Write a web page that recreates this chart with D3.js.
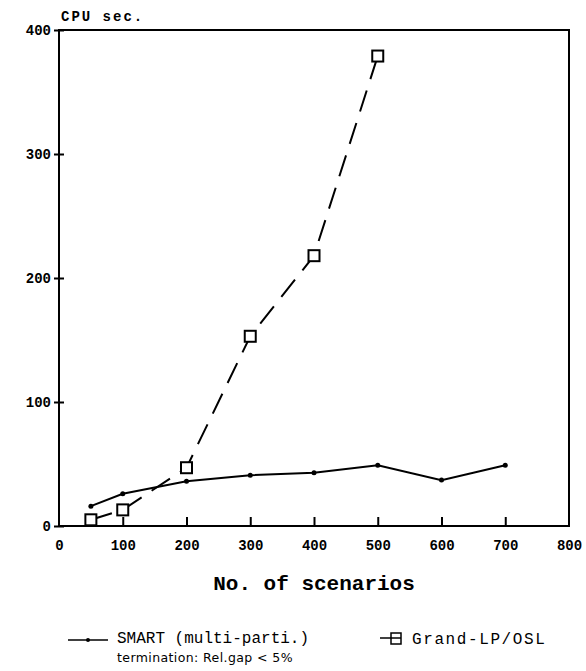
<!DOCTYPE html>
<html>
<head>
<meta charset="utf-8">
<script src="https://cdn.jsdelivr.net/npm/d3@7"></script>
<style>
  body { margin: 0; background: #fff; }
  svg { display: block; }
</style>
</head>
<body>
<div class="chart"></div>
<script>
var width = 586;
var height = 671;
var margin = { top: 30, left: 59, right: 17, bottom: 145 };

// data
var smartScenarios = [50, 100, 200, 300, 400, 500, 600, 700];
var smartCpu = [16, 26, 36, 41, 43, 49, 37, 49];
var grandScenarios = [50, 100, 200, 300, 400, 500];
var grandCpu = [5, 13, 47, 153, 218, 379];
var xTicks = [0, 100, 200, 300, 400, 500, 600, 700, 800];
var yTicks = [0, 100, 200, 300, 400];

var svg = d3.select(".chart")
    .append("svg")
    .attr("width", width)
    .attr("height", height);

var x = d3.scaleLinear()
    .domain([0, 800])
    .range([margin.left, width - margin.right]);

var y = d3.scaleLinear()
    .domain([0, 400])
    .range([height - margin.bottom, margin.top]);

var labelFont = "'Liberation Mono', 'DejaVu Sans Mono', monospace";

// frame
svg.append("rect")
    .attr("x", x(0))
    .attr("y", y(400))
    .attr("width", x(800) - x(0))
    .attr("height", y(0) - y(400))
    .attr("fill", "none")
    .attr("stroke", "#000")
    .attr("stroke-width", 2);

// x axis: ticks pointing up into the plot
var xAxis = svg.append("g")
    .attr("transform", `translate(0,${y(0)})`)
    .call(d3.axisBottom(x).tickValues(xTicks).tickSize(-9).tickPadding(14));
xAxis.select(".domain").remove();
xAxis.selectAll(".tick line")
    .attr("stroke-width", 2)
    .filter(function(d){ return d === 0 || d === 800; }).remove();
xAxis.selectAll("text")
    .attr("font-family", labelFont)
    .attr("font-weight", "bold")
    .attr("font-size", 14)
    .attr("fill", "#000");

// y axis: ticks crossing the axis line
var yAxis = svg.append("g")
    .attr("transform", `translate(${x(0)},0)`)
    .call(d3.axisLeft(y).tickValues(yTicks).tickSize(5).tickPadding(3));
yAxis.select(".domain").remove();
yAxis.selectAll(".tick line")
    .attr("x1", 5)
    .attr("stroke-width", 2);
yAxis.selectAll("text")
    .attr("font-family", labelFont)
    .attr("font-weight", "bold")
    .attr("font-size", 14)
    .attr("fill", "#000");

svg.append("text")
    .attr("x", x(0) + 2)
    .attr("y", y(400) - 9)
    .attr("font-family", labelFont)
    .attr("font-weight", "bold")
    .attr("font-size", 14)
    .attr("letter-spacing", 2)
    .text("CPU sec.");

svg.append("text")
    .attr("x", (x(0) + x(800)) / 2)
    .attr("y", 590)
    .attr("text-anchor", "middle")
    .attr("font-family", labelFont)
    .attr("font-weight", "bold")
    .attr("font-size", 21)
    .text("No. of scenarios");

var line = d3.line()
    .x(function(d){ return x(d[0]); })
    .y(function(d){ return y(d[1]); });

var smartData = d3.zip(smartScenarios, smartCpu);
var grandData = d3.zip(grandScenarios, grandCpu);

svg.append("path")
    .datum(grandData)
    .attr("d", line)
    .attr("fill", "none")
    .attr("stroke", "#000")
    .attr("stroke-width", 2)
    .attr("stroke-dasharray", "22,12");

svg.selectAll(".grand")
    .data(grandData)
    .enter()
    .append("rect")
    .attr("class", "grand")
    .attr("x", function(d){ return x(d[0]) - 5.5; })
    .attr("y", function(d){ return y(d[1]) - 5.5; })
    .attr("width", 11)
    .attr("height", 11)
    .attr("fill", "#fff")
    .attr("stroke", "#000")
    .attr("stroke-width", 2);

svg.append("path")
    .datum(smartData)
    .attr("d", line)
    .attr("fill", "none")
    .attr("stroke", "#000")
    .attr("stroke-width", 2);

svg.selectAll(".smart")
    .data(smartData)
    .enter()
    .append("circle")
    .attr("class", "smart")
    .attr("cx", function(d){ return x(d[0]); })
    .attr("cy", function(d){ return y(d[1]); })
    .attr("r", 2.5)
    .attr("fill", "#000");

// legend
var legend = svg.append("g");
legend.append("line")
    .attr("x1", 68).attr("x2", 108)
    .attr("y1", 640).attr("y2", 640)
    .attr("stroke", "#000").attr("stroke-width", 1.5);
legend.append("circle")
    .attr("cx", 88).attr("cy", 640).attr("r", 2)
    .attr("fill", "#000");
legend.append("text")
    .attr("x", 117).attr("y", 643)
    .attr("font-family", labelFont)
    .attr("font-size", 16)
    .text("SMART (multi-parti.)");
legend.append("text")
    .attr("x", 117).attr("y", 662)
    .attr("font-family", "'DejaVu Sans', sans-serif")
    .attr("font-size", 12.5)
    .attr("letter-spacing", 0.4)
    .text("termination: Rel.gap < 5%");

legend.append("line")
    .attr("x1", 380).attr("x2", 391)
    .attr("y1", 638).attr("y2", 638)
    .attr("stroke", "#000").attr("stroke-width", 1.5);
legend.append("rect")
    .attr("x", 391).attr("y", 633)
    .attr("width", 10).attr("height", 11)
    .attr("fill", "#fff")
    .attr("stroke", "#000").attr("stroke-width", 1.5);
legend.append("line")
    .attr("x1", 391).attr("x2", 401)
    .attr("y1", 638).attr("y2", 638)
    .attr("stroke", "#000").attr("stroke-width", 1.5);
legend.append("text")
    .attr("x", 412).attr("y", 644)
    .attr("font-family", labelFont)
    .attr("font-size", 16)
    .attr("letter-spacing", 1.6)
    .text("Grand-LP/OSL");
</script>
</body>
</html>
